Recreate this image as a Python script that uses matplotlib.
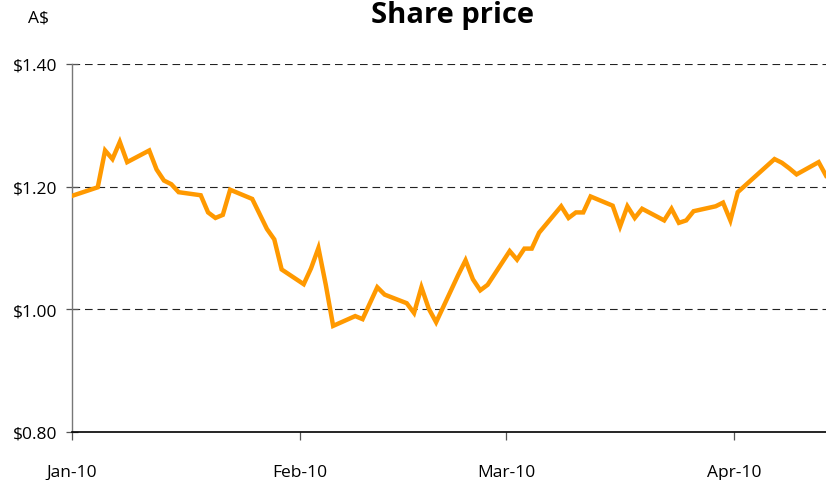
import matplotlib

matplotlib.use("Agg")
import matplotlib.dates as mdates
import matplotlib.pyplot as plt
import pandas as pd
from matplotlib.ticker import FuncFormatter

# trading days (ASX), closing price in A$
dates = [
    "2009-12-31", "2010-01-04", "2010-01-05", "2010-01-06", "2010-01-07", "2010-01-08",
    "2010-01-11", "2010-01-12", "2010-01-13", "2010-01-14", "2010-01-15",
    "2010-01-18", "2010-01-19", "2010-01-20", "2010-01-21", "2010-01-22",
    "2010-01-25", "2010-01-27", "2010-01-28", "2010-01-29",
    "2010-02-01", "2010-02-02", "2010-02-03", "2010-02-04", "2010-02-05",
    "2010-02-08", "2010-02-09", "2010-02-10", "2010-02-11", "2010-02-12",
    "2010-02-15", "2010-02-16", "2010-02-17", "2010-02-18", "2010-02-19",
    "2010-02-22", "2010-02-23", "2010-02-24", "2010-02-25", "2010-02-26",
    "2010-03-01", "2010-03-02", "2010-03-03", "2010-03-04", "2010-03-05",
    "2010-03-08", "2010-03-09", "2010-03-10", "2010-03-11", "2010-03-12",
    "2010-03-15", "2010-03-16", "2010-03-17", "2010-03-18", "2010-03-19",
    "2010-03-22", "2010-03-23", "2010-03-24", "2010-03-25", "2010-03-26",
    "2010-03-29", "2010-03-30", "2010-03-31", "2010-04-01",
    "2010-04-06", "2010-04-07", "2010-04-08", "2010-04-09",
    "2010-04-12", "2010-04-13",
]
prices = [
    1.183, 1.199, 1.259, 1.245, 1.273, 1.240,
    1.259, 1.228, 1.210, 1.204, 1.191,
    1.186, 1.158, 1.149, 1.154, 1.195,
    1.180, 1.131, 1.114, 1.065,
    1.041, 1.067, 1.100, 1.040, 0.973,
    0.989, 0.984, 1.010, 1.036, 1.024,
    1.010, 0.994, 1.036, 1.001, 0.979,
    1.056, 1.080, 1.049, 1.031, 1.040,
    1.095, 1.081, 1.099, 1.099, 1.125,
    1.168, 1.149, 1.158, 1.158, 1.184,
    1.169, 1.135, 1.168, 1.149, 1.164,
    1.145, 1.164, 1.141, 1.145, 1.160,
    1.168, 1.174, 1.145, 1.191,
    1.245, 1.239, 1.230, 1.220,
    1.240, 1.218,
]
month_ticks = ["2010-01-01", "2010-02-01", "2010-03-01", "2010-04-01"]
price_ticks = [0.80, 1.00, 1.20, 1.40]

LINE_COLOR = "#FF9900"
FONT = "Open Sans"


def main():
    plt.rcParams["font.family"] = [FONT, "DejaVu Sans"]
    plt.rcParams["lines.scale_dashes"] = False

    fig = plt.figure(figsize=(8.26, 4.81), dpi=100)
    ax = fig.add_axes([72 / 826, 1 - 433 / 481, 1 - 72 / 826, (433 - 65) / 481])

    # points sit in the middle of each day slot, like a date axis in Excel
    x = pd.to_datetime(dates) + pd.Timedelta(hours=12)
    ax.plot(x, prices, color=LINE_COLOR, linewidth=3.2, solid_joinstyle="miter", zorder=3)

    ax.set_xlim(pd.Timestamp("2010-01-01"), pd.Timestamp("2010-04-13 12:00"))
    ax.set_ylim(0.80, 1.40)

    for value in price_ticks[1:]:
        ax.axhline(value, color="#222222", linewidth=0.8, dashes=(5.5, 3.5), zorder=1)

    ax.set_yticks(price_ticks)
    ax.yaxis.set_major_formatter(FuncFormatter(lambda v, _: f"${v:.2f}"))
    ax.set_xticks(pd.to_datetime(month_ticks))
    ax.xaxis.set_major_formatter(mdates.DateFormatter("%b-%y"))

    ax.tick_params(axis="y", direction="inout", length=9, width=0.9, color="#555555",
                   labelsize=12.5, pad=6)
    ax.tick_params(axis="x", direction="out", length=6, width=0.9, color="#555555",
                   labelsize=12.5, pad=17)

    for side in ("top", "right"):
        ax.spines[side].set_visible(False)
    ax.spines["left"].set_color("#777777")
    ax.spines["left"].set_linewidth(1.0)
    ax.spines["bottom"].set_color("black")
    ax.spines["bottom"].set_linewidth(1.2)

    fig.text(38 / 826, 1 - 18 / 481, "A$", ha="center", va="center", fontsize=12.5)
    fig.text(452 / 826, 1 - 16 / 481, "Share price", ha="center", va="center",
             fontsize=21, fontweight="bold")

    fig.savefig("out.png", dpi=100)
    plt.close(fig)


if __name__ == "__main__":
    main()
